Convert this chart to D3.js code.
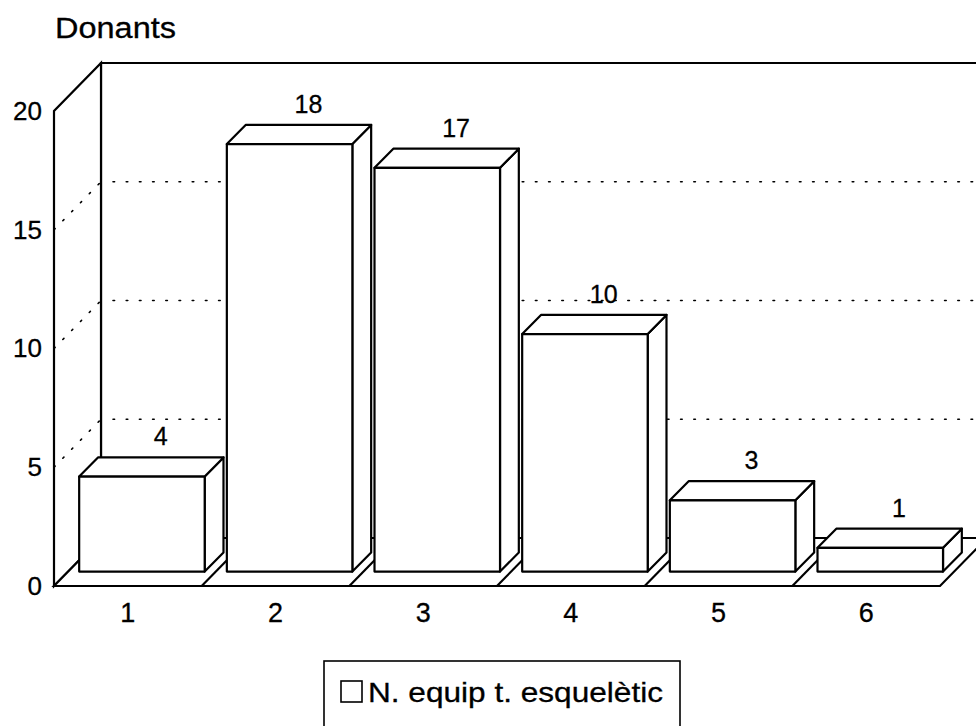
<!DOCTYPE html>
<html>
<head>
<meta charset="utf-8">
<script src="https://cdn.jsdelivr.net/npm/d3@7/dist/d3.min.js"></script>
<style>
  html, body { margin: 0; padding: 0; background: #fff; }
  svg { display: block; }
  text { font-family: "Liberation Sans", Arial, Helvetica, sans-serif; fill: #000; stroke: #000; stroke-width: 0.3px; }
</style>
</head>
<body>
<svg id="chart" width="976" height="726"></svg>
<script>
// Donants per nombre d'equips de teixit esquelètic
const categories = ["1", "2", "3", "4", "5", "6"];
const values = [4, 18, 17, 10, 3, 1];
const yTicks = [0, 5, 10, 15, 20];
const gridValues = [5, 10, 15];
const yTitle = "Donants";
const seriesName = "N. equip t. esquelètic";

const svg = d3.select("#chart");

// Oblique projection: the back wall sits up and to the right of the front plane
const depth = { dx: 47, dy: -48 };
const barFront = 0.3, barBack = 0.7;   // fraction of depth occupied by the bars

const x = d3.scaleBand().domain(categories).range([54, 940])
  .paddingInner(0.15).paddingOuter(0.075);
const xCat = d3.scaleBand().domain(categories).range([54, 940]);
const y = d3.scaleLinear().domain([0, 20]).range([586, 111]);

const line = d3.line();
const stroke = "#000", sw = 2.2;

const x0 = xCat.range()[0], x1 = xCat.range()[1];
const yBase = y(0), yTop = y(20);
const bx = (px, f) => px + depth.dx * f;
const by = (py, f) => py + depth.dy * f;

// Back wall
svg.append("path")
  .attr("d", line([[bx(x0,1), by(yBase,1)], [bx(x0,1), by(yTop,1)], [bx(x1,1), by(yTop,1)], [bx(x1,1), by(yBase,1)]]))
  .attr("fill", "#fff").attr("stroke", stroke).attr("stroke-width", sw);

// Left wall
svg.append("path")
  .attr("d", line([[x0, yBase], [x0, yTop], [bx(x0,1), by(yTop,1)], [bx(x0,1), by(yBase,1)]]) + "Z")
  .attr("fill", "#fff").attr("stroke", stroke).attr("stroke-width", sw);

// Dotted grid lines across left wall and back wall
const grid = svg.append("g");
gridValues.forEach(v => {
  grid.append("path")
    .attr("d", line([[x0, y(v)], [bx(x0,1), by(y(v),1)]]))
    .attr("fill", "none").attr("stroke", stroke).attr("stroke-width", 1.6)
    .attr("stroke-dasharray", "1.6,11").attr("stroke-linecap", "round");
  grid.append("path")
    .attr("d", line([[bx(x0,1) + 12, by(y(v),1)], [bx(x1,1), by(y(v),1)]]))
    .attr("fill", "none").attr("stroke", stroke).attr("stroke-width", 1.6)
    .attr("stroke-dasharray", "1.6,11.6").attr("stroke-linecap", "round");
});

// Floor
svg.append("path")
  .attr("d", line([[x0, yBase], [x1, yBase], [bx(x1,1), by(yBase,1)], [bx(x0,1), by(yBase,1)]]) + "Z")
  .attr("fill", "#fff").attr("stroke", stroke).attr("stroke-width", sw);

// Category dividers on the floor
categories.slice(1).forEach(c => {
  const px = xCat(c);
  svg.append("path")
    .attr("d", line([[px, yBase], [bx(px,1), by(yBase,1)]]))
    .attr("stroke", stroke).attr("stroke-width", sw);
});

// Bars as boxes: front face, top face, right side
const bars = svg.append("g");
categories.forEach((c, i) => {
  const v = values[i];
  const xl = bx(x(c), barFront), xr = bx(x(c) + x.bandwidth(), barFront);
  const yb = by(y(0), barFront), yt = by(y(v), barFront);
  const d = barBack - barFront;
  const g = bars.append("g");
  const face = pts => g.append("path").attr("d", line(pts) + "Z")
    .attr("fill", "#fff").attr("stroke", stroke).attr("stroke-width", sw)
    .attr("stroke-linejoin", "round");
  // right side
  face([[xr, yb], [xr, yt], [bx(xr,d), by(yt,d)], [bx(xr,d), by(yb,d)]]);
  // top
  face([[xl, yt], [xr, yt], [bx(xr,d), by(yt,d)], [bx(xl,d), by(yt,d)]]);
  // front
  face([[xl, yb], [xr, yb], [xr, yt], [xl, yt]]);
  // value label above the back of the top face
  g.append("text")
    .attr("x", bx(x(c) + x.bandwidth() / 2, barBack))
    .attr("y", by(y(v), barBack) - 12)
    .attr("text-anchor", "middle")
    .attr("font-size", 25)
    .text(v);
});

// Y axis labels along the front edge
const yAxis = svg.append("g")
  .attr("transform", `translate(${x0},0)`)
  .call(d3.axisLeft(y).tickValues(yTicks).tickSize(0).tickPadding(12).tickFormat(d3.format("d")));
yAxis.select(".domain").remove();
yAxis.selectAll("text").attr("font-size", 26).attr("fill", "#000")
  .attr("font-family", "'Liberation Sans', Arial, sans-serif");

// Category labels under the floor
const xAxis = svg.append("g")
  .attr("transform", `translate(0,${yBase})`)
  .call(d3.axisBottom(xCat).tickSize(0).tickPadding(17));
xAxis.select(".domain").remove();
xAxis.selectAll("text").attr("font-size", 27).attr("fill", "#000")
  .attr("font-family", "'Liberation Sans', Arial, sans-serif");

// Axis title
svg.append("text")
  .attr("x", 55).attr("y", 38)
  .attr("font-size", 29)
  .attr("textLength", 121).attr("lengthAdjust", "spacingAndGlyphs")
  .text(yTitle);

// Legend
const lg = svg.append("g");
lg.append("rect")
  .attr("x", 324).attr("y", 661).attr("width", 356).attr("height", 90)
  .attr("fill", "#fff").attr("stroke", stroke).attr("stroke-width", 1.6);
lg.append("rect")
  .attr("x", 341).attr("y", 681).attr("width", 21).attr("height", 21)
  .attr("fill", "#fff").attr("stroke", stroke).attr("stroke-width", 1.6);
lg.append("text")
  .attr("x", 368).attr("y", 702)
  .attr("font-size", 28)
  .attr("textLength", 295).attr("lengthAdjust", "spacingAndGlyphs")
  .text(seriesName);
</script>
</body>
</html>
